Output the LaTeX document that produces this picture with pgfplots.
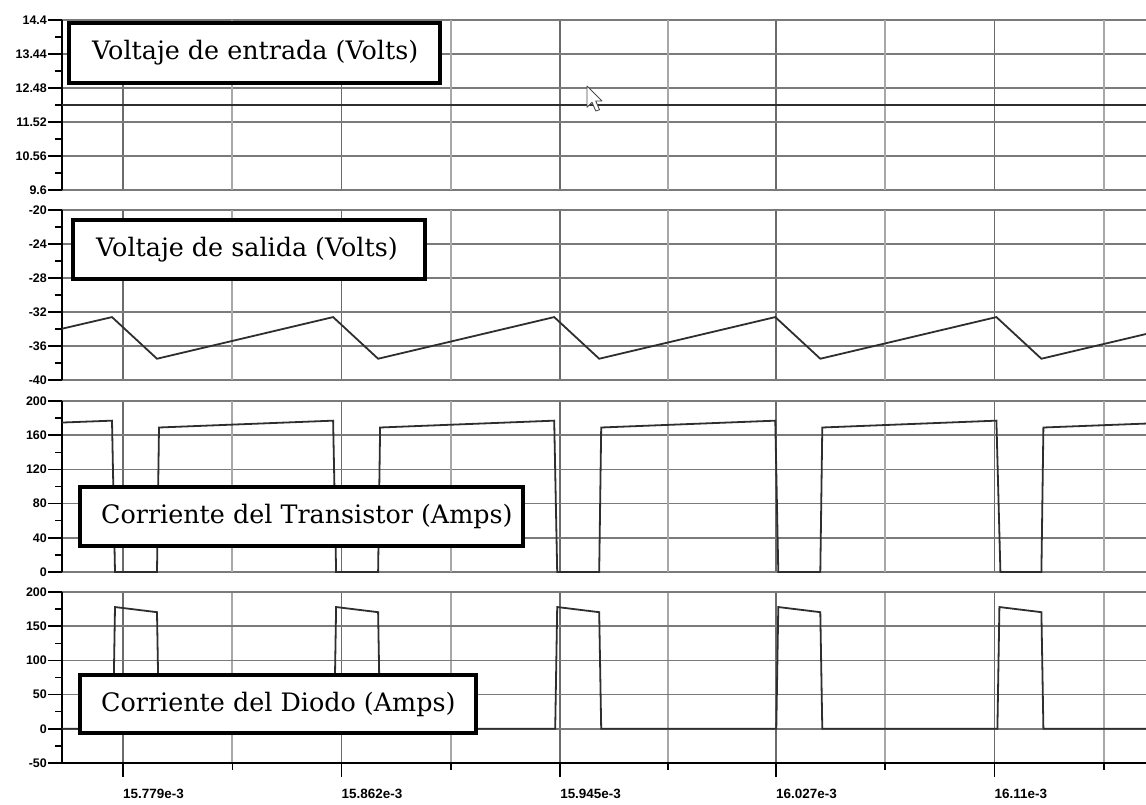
\documentclass[border=0pt]{standalone}
\usepackage{fontspec}
\setmainfont{Liberation Sans}
\newfontfamily\boxfont{DejaVu Serif}
\usepackage{pgfplots}
\pgfplotsset{compat=1.18}

\definecolor{gridmaj}{gray}{0.42}
\definecolor{gridmin}{gray}{0.66}
\definecolor{hgrid}{gray}{0.48}
\definecolor{sigc}{gray}{0.18}

\pgfplotsset{
  panel/.style={
    scale only axis, width=1084bp,
    xmin=15.75583, xmax=16.16754,
    axis lines=left, axis line style={-},
    x axis line style={draw=none},
    y axis line style={line width=2.4bp, black},
    xtick={15.779,15.862,15.945,16.027,16.11},
    minor y tick num=1,
    xmajorgrids, ymajorgrids,
    major x grid style={line width=1.8bp, gridmaj},
    minor x grid style={line width=1.8bp, gridmin},
    major y grid style={line width=1.6bp, hgrid},
    tick align=outside,
    major tick length=14bp, minor tick length=7bp,
    every tick/.style={line width=1.5bp, black},
    yticklabel style={font=\bfseries\fontsize{12.5}{12.5}\selectfont, inner sep=1bp},
    xticklabel style={font=\bfseries\fontsize{13.5}{13.5}\selectfont, anchor=north west, inner sep=0pt},
    clip=false,
    anchor=south west,
  },
  upper/.style={
    xmajorticks=false,
    extra x ticks={15.8205,15.9035,15.986,16.0685,16.1515},
    extra x tick labels={},
    extra x tick style={grid=major, major tick length=0pt,
      major x grid style={line width=1.8bp, gridmin}},
  },
  sig/.style={line width=1.8bp, sigc},
}
\tikzset{lbl/.style={anchor=west, inner sep=0pt, font=\boxfont\fontsize{25.5}{25.5}\selectfont}}

\begin{document}
\begin{tikzpicture}
% Panel 1: input voltage
\begin{axis}[panel, upper, at={(62bp,615bp)}, height=170bp,
  ymin=9.6, ymax=14.4,
  ytick={9.6,10.56,11.52,12.48,13.44,14.4},
  yticklabels={9.6,10.56,11.52,12.48,13.44,14.4}]
\addplot[sig] coordinates {(15.75583,12) (16.16754,12)};
\end{axis}
% Panel 2: output voltage
\begin{axis}[panel, upper, at={(62bp,425bp)}, height=170bp,
  ymin=-40, ymax=-20,
  ytick={-40,-36,-32,-28,-24,-20},
  yticklabels={-40,-36,-32,-28,-24,-20}]
\addplot[sig] coordinates {
(15.75583,-33.97) (15.77482,-32.6) (15.79191,-37.5)
(15.85880,-32.6) (15.87589,-37.5)
(15.94277,-32.6) (15.95986,-37.5)
(16.02674,-32.6) (16.04384,-37.5)
(16.11072,-32.6) (16.12781,-37.5)
(16.16754,-34.59)};
\end{axis}
% Panel 3: transistor current
\begin{axis}[panel, upper, at={(62bp,233bp)}, height=171bp,
  ymin=0, ymax=200,
  ytick={0,40,80,120,160,200},
  yticklabels={0,40,80,120,160,200}]
\addplot[sig] coordinates {
(15.75583,174.8) (15.77482,177) (15.77596,0) (15.79191,0) (15.79267,169)
(15.85880,177) (15.85994,0) (15.87589,0) (15.87665,169)
(15.94277,177) (15.94391,0) (15.95986,0) (15.96062,169)
(16.02674,177) (16.02788,0) (16.04384,0) (16.04459,169)
(16.11072,177) (16.11224,0) (16.12781,0) (16.12857,169)
(16.16754,173.6)};
\end{axis}
% Panel 4: diode current
\begin{axis}[panel, at={(62bp,42bp)}, height=171bp,
  ymin=-50, ymax=200,
  ytick={-50,0,50,100,150,200},
  yticklabels={-50,0,50,100,150,200},
  minor xtick={15.8205,15.9035,15.986,16.0685,16.1515},
  xminorgrids,
  x axis line style={draw, line width=2.4bp, black},
  xticklabels={15.779e-3,15.862e-3,15.945e-3,16.027e-3,16.11e-3},
  xticklabel style={yshift=-12bp}]
\addplot[sig] coordinates {
(15.75583,0) (15.77520,0) (15.77596,178) (15.79191,170.5) (15.79267,0)
(15.85918,0) (15.85994,178) (15.87589,170.5) (15.87665,0)
(15.94315,0) (15.94391,178) (15.95986,170.5) (15.96062,0)
(16.02712,0) (16.02788,178) (16.04384,170.5) (16.04459,0)
(16.11110,0) (16.11186,178) (16.12781,170.5) (16.12857,0)
(16.16754,0)};
\end{axis}
% label boxes
\draw[line width=3.2bp, fill=white] (69bp,722bp) rectangle (440bp,782bp);
\node[lbl] at (92bp,752bp) {Voltaje de entrada (Volts)};
\draw[line width=3.2bp, fill=white] (73bp,526bp) rectangle (425bp,585bp);
\node[lbl] at (96bp,555.5bp) {Voltaje de salida (Volts)};
\draw[line width=3.2bp, fill=white] (80bp,259bp) rectangle (523bp,318bp);
\node[lbl] at (101bp,288.5bp) {Corriente del Transistor (Amps)};
\draw[line width=3.2bp, fill=white] (80bp,72bp) rectangle (476bp,130bp);
\node[lbl] at (101bp,101bp) {Corriente del Diodo (Amps)};
% mouse cursor
\begin{scope}[shift={(587bp,719bp)}, x=1.25bp, y=1.25bp]
\draw[fill=white, draw=black!70, line width=0.9bp, line join=round]
  (0,0) -- (0,-17) -- (4,-13) -- (7,-20) -- (10,-19) -- (7,-12) -- (12,-12) -- cycle;
\end{scope}
\pgfresetboundingbox
\path[use as bounding box] (0,0) rectangle (1146bp,805bp);
\end{tikzpicture}
\end{document}
